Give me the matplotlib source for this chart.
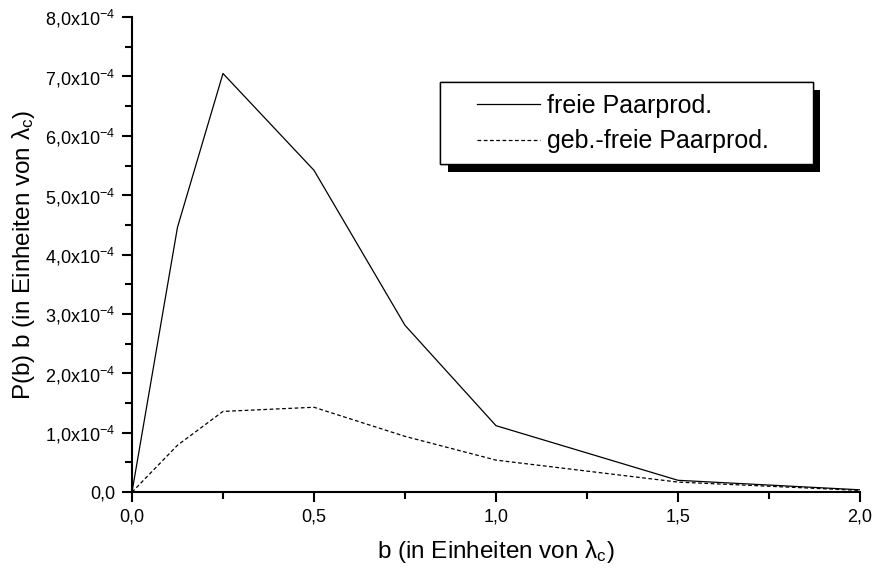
import matplotlib
matplotlib.use("Agg")
import matplotlib.pyplot as plt
from matplotlib import patheffects
from matplotlib.patches import Rectangle
from matplotlib.ticker import MultipleLocator, FuncFormatter

plt.rcParams['font.family'] = ['Liberation Sans', 'DejaVu Sans']
plt.rcParams['mathtext.default'] = 'regular'

# b in units of lambda_c
b = [0.0, 0.125, 0.25, 0.5, 0.75, 1.0, 1.5, 2.0]
# P(b) b, free pair production
freie = [0.0, 4.46e-4, 7.05e-4, 5.42e-4, 2.81e-4, 1.12e-4, 0.20e-4, 0.04e-4]
# bound-free pair production
gebfreie = [0.0, 0.79e-4, 1.36e-4, 1.43e-4, 0.94e-4, 0.54e-4, 0.17e-4, 0.03e-4]

fig = plt.figure(figsize=(8.74, 5.69), dpi=100)
ax = fig.add_axes([0.151, 0.135, 0.833, 0.835])

ax.plot(b, freie, color='black', lw=0.9, label='freie Paarprod.')
ax.plot(b, gebfreie, color='black', lw=0.9, ls=(0, (3, 2)), label='geb.-freie Paarprod.')

ax.set_xlim(0, 2.0)
ax.set_ylim(0, 8e-4)

for s in ['top', 'right']:
    ax.spines[s].set_visible(False)
for s in ['left', 'bottom']:
    ax.spines[s].set_linewidth(1.5)

ax.xaxis.set_major_locator(MultipleLocator(0.5))
ax.xaxis.set_minor_locator(MultipleLocator(0.25))
ax.yaxis.set_major_locator(MultipleLocator(1e-4))
ax.yaxis.set_minor_locator(MultipleLocator(0.5e-4))

def xfmt(v, pos):
    return ('%.1f' % v).replace('.', ',')

def yfmt(v, pos):
    n = v / 1e-4
    if abs(n) < 1e-9:
        return '0,0'
    return ('%.1f' % n).replace('.', ',') + 'x10$^{-4}$'

ax.xaxis.set_major_formatter(FuncFormatter(xfmt))
ax.yaxis.set_major_formatter(FuncFormatter(yfmt))
ax.tick_params(which='major', direction='out', length=7, width=1.5, labelsize=13, pad=5)
ax.tick_params(which='minor', direction='out', length=5, width=1.5)

ax.set_xlabel(r'b (in Einheiten von $\lambda_c$)', fontsize=17.5, labelpad=9)
ax.set_ylabel(r'P(b) b (in Einheiten von $\lambda_c$)', fontsize=17.5, labelpad=6)

# legend box with hard black shadow
box = Rectangle((0.423, 0.6905), 0.512, 0.1726, transform=ax.transAxes,
                facecolor='white', edgecolor='black', lw=1.0, zorder=5)
box.set_path_effects([
    patheffects.withSimplePatchShadow(offset=(5.5, -5.5), shadow_rgbFace='black', alpha=1.0),
    patheffects.Normal()])
ax.add_patch(box)

leg = ax.legend(loc='upper left', bbox_to_anchor=(0.474, 0.838), fontsize=18,
                frameon=False, handlelength=2.5, handletextpad=0.3, borderpad=0,
                labelspacing=0.45, borderaxespad=0)
leg.set_zorder(6)

fig.savefig('out.png', dpi=100)
